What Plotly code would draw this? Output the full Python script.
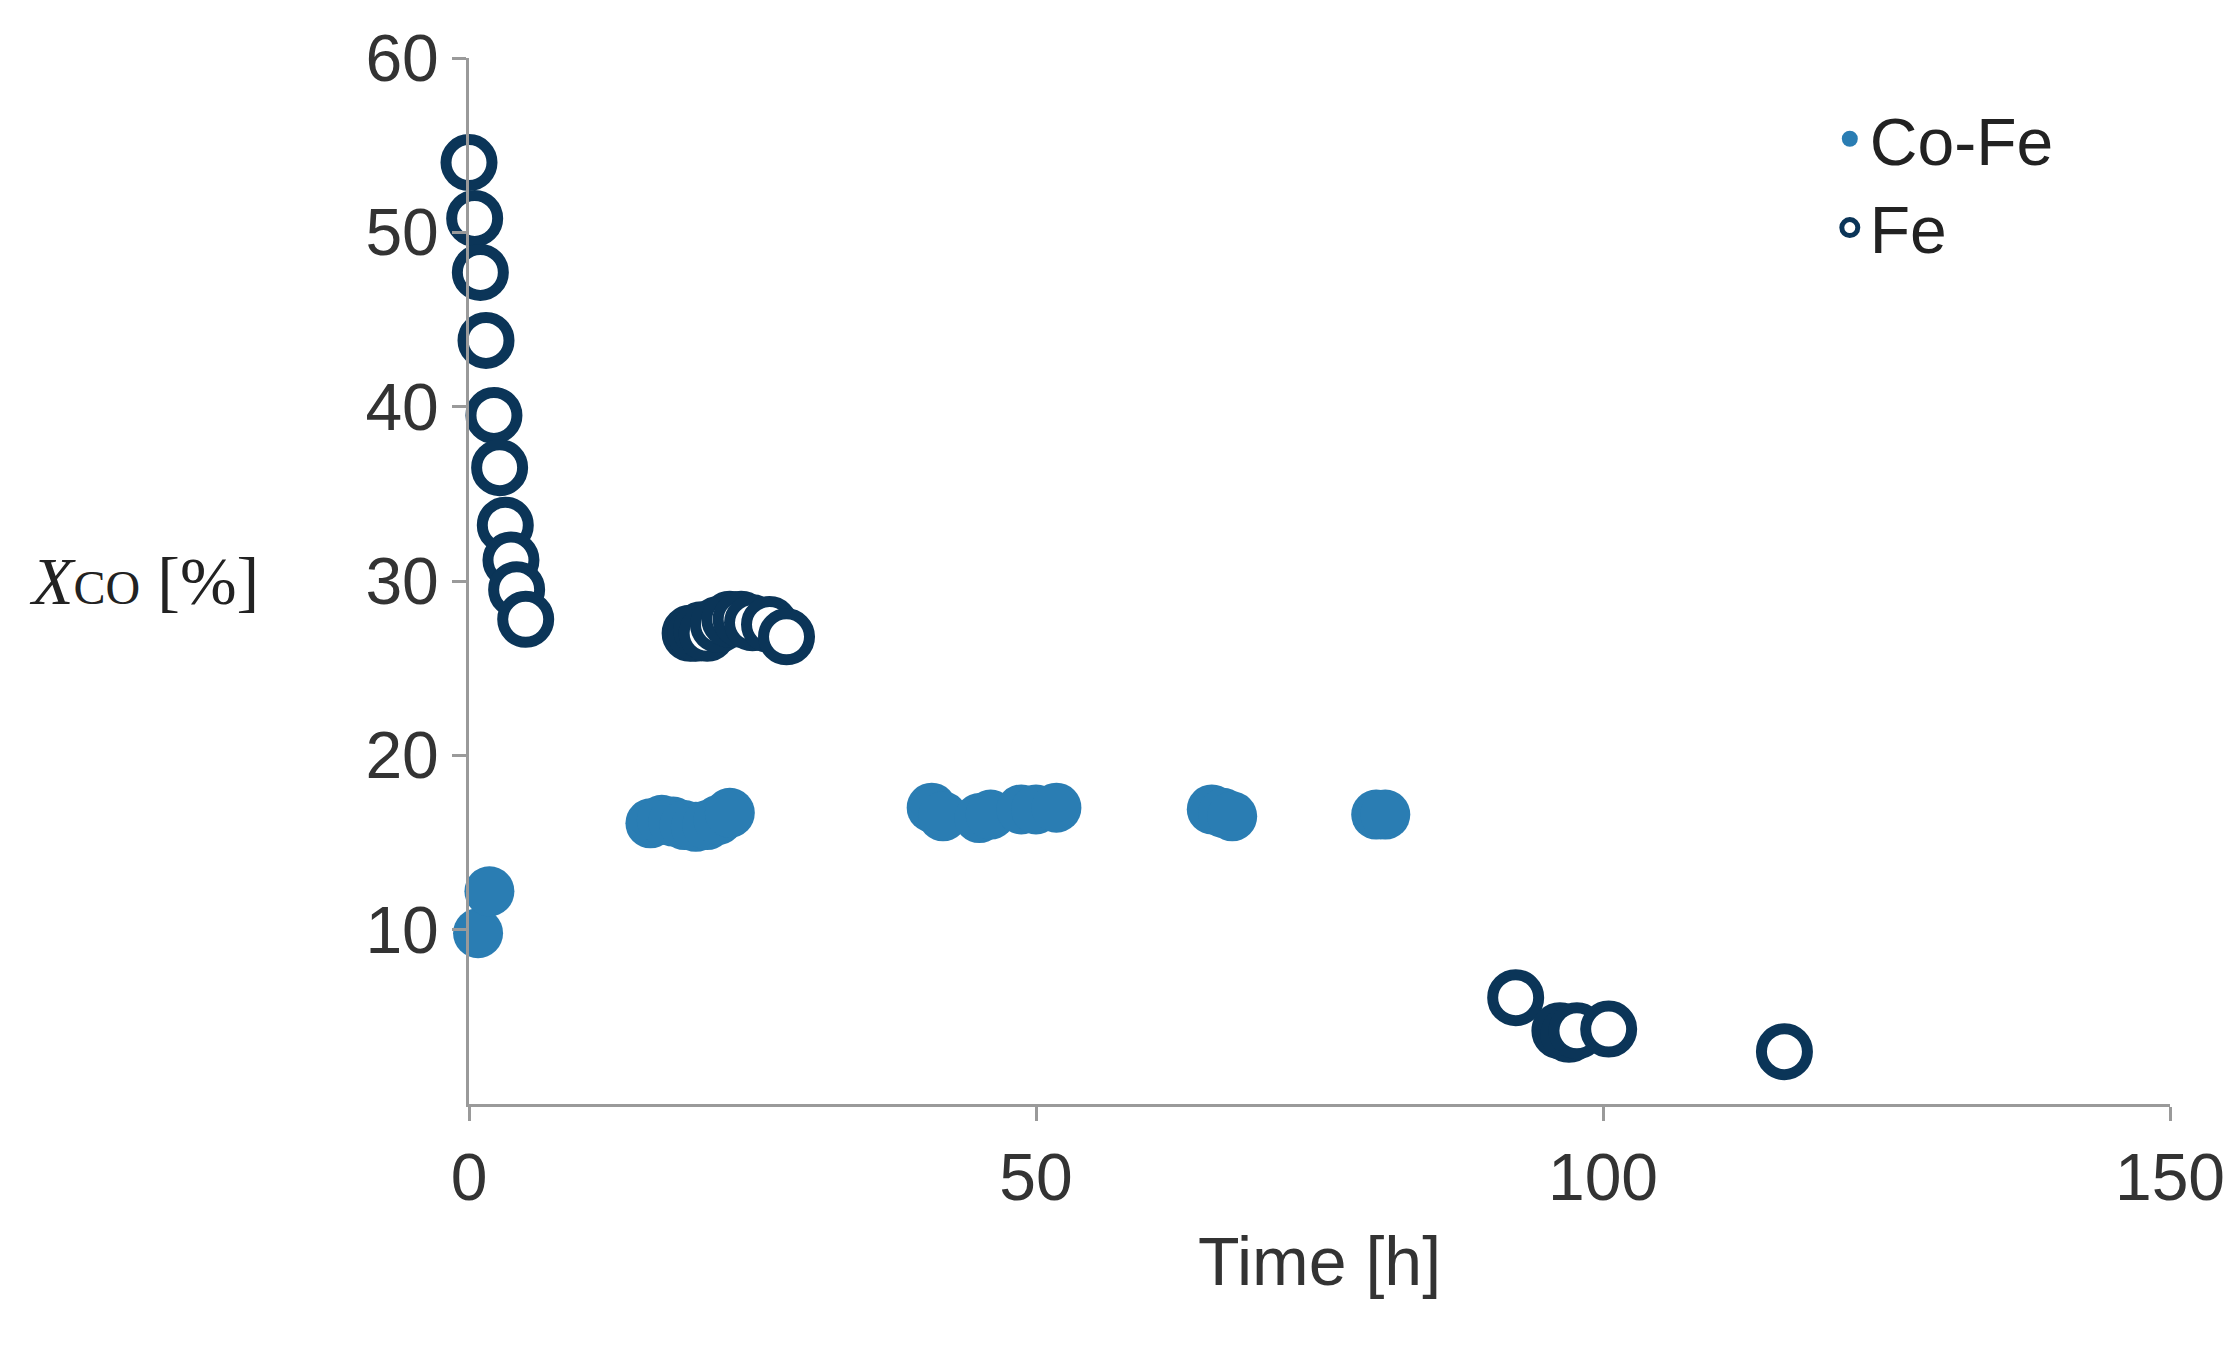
import plotly.graph_objects as go

# Co-Fe catalyst
cofe_time = [0.8, 1.8, 16, 17, 18, 19, 20, 21, 22, 23,
             40.8, 41.8, 45, 46, 48.7, 50, 51.8,
             65.5, 66.5, 67.3, 80, 80.8]
cofe_xco = [9.8, 12.2, 16.1, 16.3, 16.2, 16.0, 15.9, 16.0, 16.3, 16.7,
            17.0, 16.5, 16.4, 16.6, 16.9, 16.9, 17.0,
            16.9, 16.7, 16.5, 16.6, 16.6]

# Fe catalyst
fe_time = [0, 0.5, 1, 1.5, 2.2, 2.7, 3.2, 3.7, 4.2, 5,
           19.5, 20, 20.5, 21, 22, 23, 24, 25, 26.5, 28,
           92.3, 96.2, 97, 97.7, 100.5, 116]
fe_xco = [54, 50.8, 47.7, 43.8, 39.5, 36.5, 33.2, 31.2, 29.5, 27.8,
          27.0, 27.0, 27.2, 27.0, 27.5, 27.8, 27.8, 27.6, 27.5, 26.8,
          6.1, 4.2, 4.0, 4.2, 4.3, 3.0]

x_ticks = [0, 50, 100, 150]
y_ticks = [10, 20, 30, 40, 50, 60]

font = "Liberation Sans, Arial, sans-serif"

fig = go.Figure()
fig.add_trace(go.Scatter(
    x=cofe_time, y=cofe_xco, mode="markers", name="Co-Fe",
    marker=dict(size=50, color="#2a7db3", line=dict(width=0)),
))
fig.add_trace(go.Scatter(
    x=fe_time, y=fe_xco, mode="markers", name="Fe",
    marker=dict(size=46, color="white", line=dict(width=11, color="#0b3558")),
))

fig.update_layout(
    width=2238, height=1346,
    plot_bgcolor="white", paper_bgcolor="white",
    margin=dict(l=461, r=76, t=50, b=250),
    font=dict(family=font, size=66, color="#333333"),
    showlegend=True,
    legend=dict(x=0.8, y=0.97, xanchor="left", yanchor="top",
                font=dict(size=66, color="#222222"), bgcolor="rgba(0,0,0,0)",
                itemsizing="trace"),
    xaxis=dict(range=[0, 150], tickvals=x_ticks, showline=True,
               linecolor="#9a9a9a", linewidth=3, ticks="outside",
               tickcolor="#9a9a9a", ticklen=14, tickwidth=3,
               showgrid=False, zeroline=False,
               title=dict(text="Time [h]", font=dict(size=68), standoff=25)),
    yaxis=dict(range=[0, 60], tickvals=y_ticks, showline=True,
               linecolor="#9a9a9a", linewidth=3, ticks="outside",
               tickcolor="#9a9a9a", ticklen=14, tickwidth=3,
               showgrid=False, zeroline=False),
)
fig.add_annotation(
    text="<i>X</i><span style='font-size:48px'>CO</span> [%]",
    xref="paper", yref="y", x=-0.26, y=30, showarrow=False,
    xanchor="left", font=dict(size=68, color="#222222", family="Liberation Serif, serif"),
)
fig.update_traces(cliponaxis=False)

fig.write_html("out.html")
